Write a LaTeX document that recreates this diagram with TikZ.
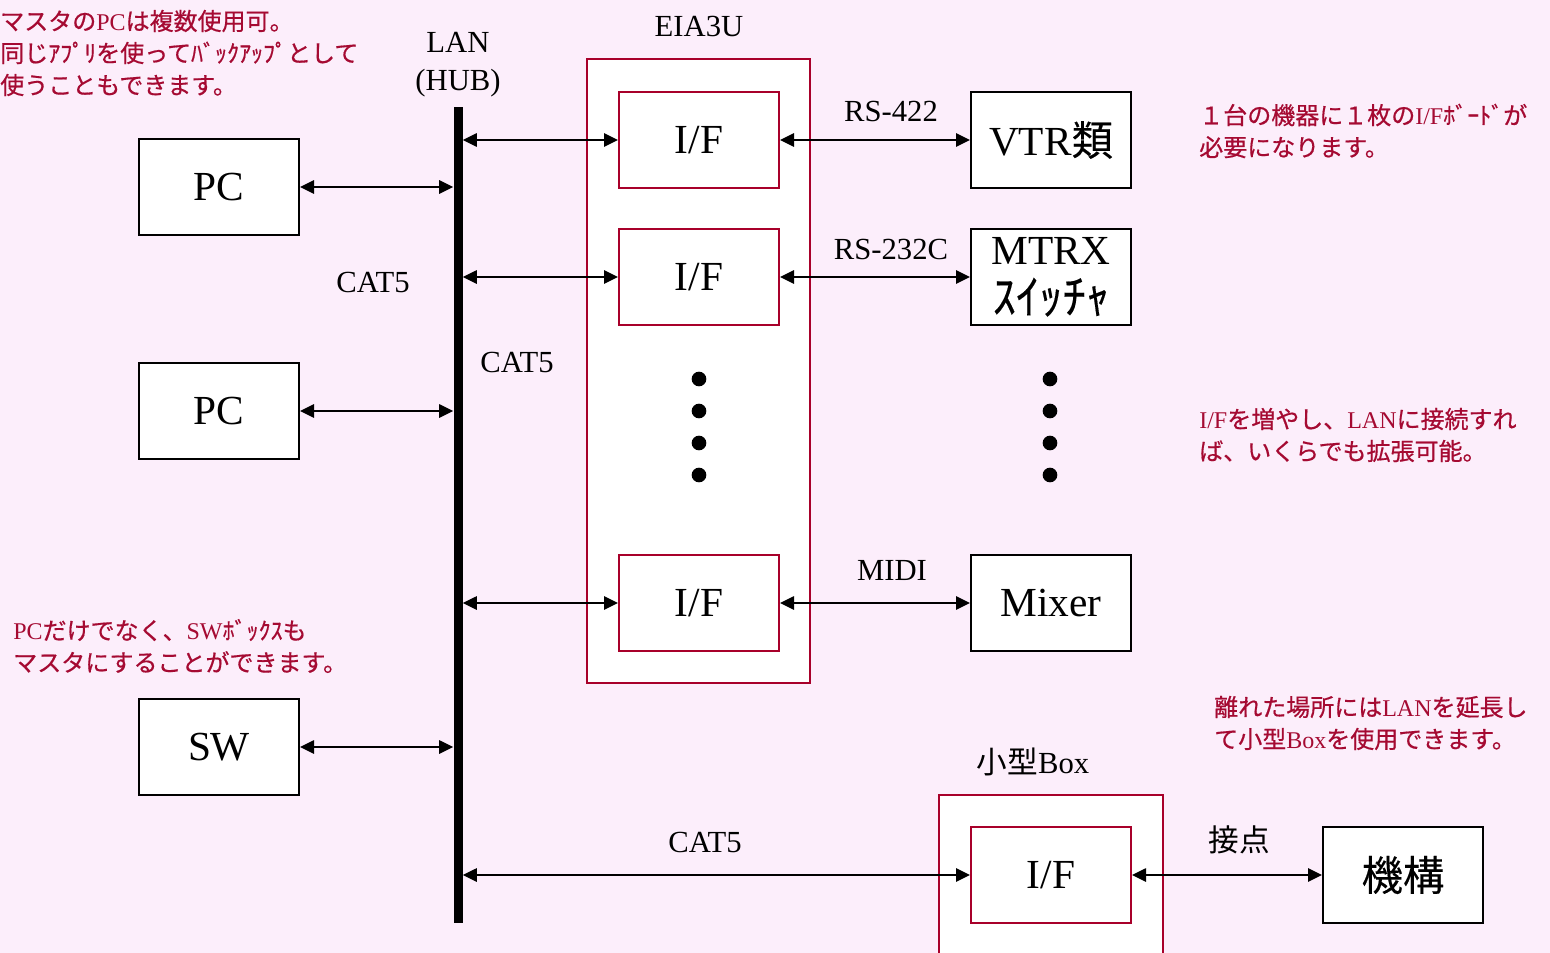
\documentclass[tikz,border=0pt]{standalone}
\usepackage{fontspec}
\setmainfont{Liberation Serif}
\newfontfamily\jp{Noto Sans CJK JP}
\newfontfamily\jb[FakeBold=0.6]{Noto Sans CJK JP}
\newfontfamily\jm[FakeBold=0.3]{Noto Sans CJK JP}
\usetikzlibrary{arrows.meta}
\definecolor{bgpink}{HTML}{FCEEFB}
\definecolor{annred}{HTML}{A50A32}
\definecolor{boxred}{HTML}{A8002A}
\begin{document}
\begin{tikzpicture}[x=0.75pt,y=-0.75pt,
  blk/.style={draw=black,line width=1.5pt,fill=white,minimum width=120pt,minimum height=72pt,inner sep=0pt,font=\fontsize{31}{36}\selectfont},
  ifbox/.style={blk,draw=boxred},
  frame/.style={draw=boxred,line width=1.5pt,fill=white},
  conn/.style={line width=1.2pt,{Triangle[length=10.5pt,width=10pt]}-{Triangle[length=10.5pt,width=10pt]}},
  lbl/.style={inner sep=0pt,font=\fontsize{23}{28}\selectfont},
  ann/.style={inner sep=0pt,align=left,text=annred,font=\fontsize{18}{24}\selectfont},
  dotc/.style={circle,fill=black,minimum size=11pt,inner sep=0pt}
]
\useasboundingbox[fill=bgpink] (0,0) rectangle (1550,953);

% frames
\draw[frame] (587,59) rectangle (810,683);
\path[fill=white] (939,795) rectangle (1163,953);
\draw[boxred,line width=1.5pt] (939,953) -- (939,795) -- (1163,795) -- (1163,953);

% bus
\node[fill=black,minimum width=6.75pt,minimum height=612pt,inner sep=0pt] (bus) at (458,515) {};

% left boxes
\node[blk] (pc1) at (219,187) {PC};
\node[blk] (pc2) at (219,411) {PC};
\node[blk] (sw) at (219,747) {SW};

% I/F boxes
\node[ifbox] (if1) at (699,140) {I/F};
\node[ifbox] (if2) at (699,277) {I/F};
\node[ifbox] (if3) at (699,603) {I/F};
\node[ifbox] (if4) at (1051,875) {I/F};

% devices
\node[blk] (vtr) at (1051,140) {VTR{\jm 類}};
\node[blk,align=center,font=\fontsize{31}{34}\selectfont] (mtrx) at (1051,277) {MTRX\\[3pt]{\jm\fontsize{35}{36}\selectfont ｽｲｯﾁｬ}};
\node[blk] (mixer) at (1051,603) {Mixer};
\node[blk] (kiko) at (1403,875) {\jm 機構};

% dots
\foreach \yy [count=\i] in {379,411,443,475}{
  \node[dotc] (dl\i) at (699,\yy) {};
  \node[dotc] (dr\i) at (1050,\yy) {};
}

% connectors
\draw[conn] (pc1.east) -- (pc1.east -| bus.west);
\draw[conn] (pc2.east) -- (pc2.east -| bus.west);
\draw[conn] (sw.east) -- (sw.east -| bus.west);
\draw[conn] (if1.west -| bus.east) -- (if1.west);
\draw[conn] (if2.west -| bus.east) -- (if2.west);
\draw[conn] (if3.west -| bus.east) -- (if3.west);
\draw[conn] (if4.west -| bus.east) -- (if4.west);
\draw[conn] (if1.east) -- (vtr.west);
\draw[conn] (if2.east) -- (mtrx.west);
\draw[conn] (if3.east) -- (mixer.west);
\draw[conn] (if4.east) -- (kiko.west);

% labels
\node[lbl,align=center,font=\fontsize{23}{28.5}\selectfont] (lan) at (458,65) {LAN\\(HUB)};
\node[lbl] (eia) at (699,26) {EIA3U};
\node[lbl] (rs422) at (891,111) {RS-422};
\node[lbl] (rs232) at (891,249) {RS-232C};
\node[lbl] (midi) at (892,570) {MIDI};
\node[lbl] (cat1) at (373,282) {CAT5};
\node[lbl] (cat2) at (517,362) {CAT5};
\node[lbl] (cat3) at (705,842) {CAT5};
\node[lbl] (small) at (1033,762) {{\jp 小型}Box};
\node[lbl] (setten) at (1239,840) {\jp 接点};

% annotations
\node[ann,anchor=west] (a1) at (0,53) {{\jb マスタの}PC{\jb は複数使用可。}\\{\jb 同じｱﾌﾟﾘを使ってﾊﾞｯｸｱｯﾌﾟとして}\\{\jb 使うこともできます。}};
\node[ann,anchor=west] (a2) at (1199,131) {{\jb １台の機器に１枚の}I/F{\jb ﾎﾞｰﾄﾞが}\\{\jb 必要になります。}};
\node[ann,anchor=west] (a3) at (1199,435) {I/F{\jb を増やし、}LAN{\jb に接続すれ}\\{\jb ば、いくらでも拡張可能。}};
\node[ann,anchor=west] (a4) at (13,646) {PC{\jb だけでなく、}SW{\jb ﾎﾞｯｸｽも}\\{\jb マスタにすることができます。}};
\node[ann,anchor=west] (a5) at (1214,723) {{\jb 離れた場所には}LAN{\jb を延長し}\\{\jb て小型}Box{\jb を使用できます。}};
\end{tikzpicture}
\end{document}
